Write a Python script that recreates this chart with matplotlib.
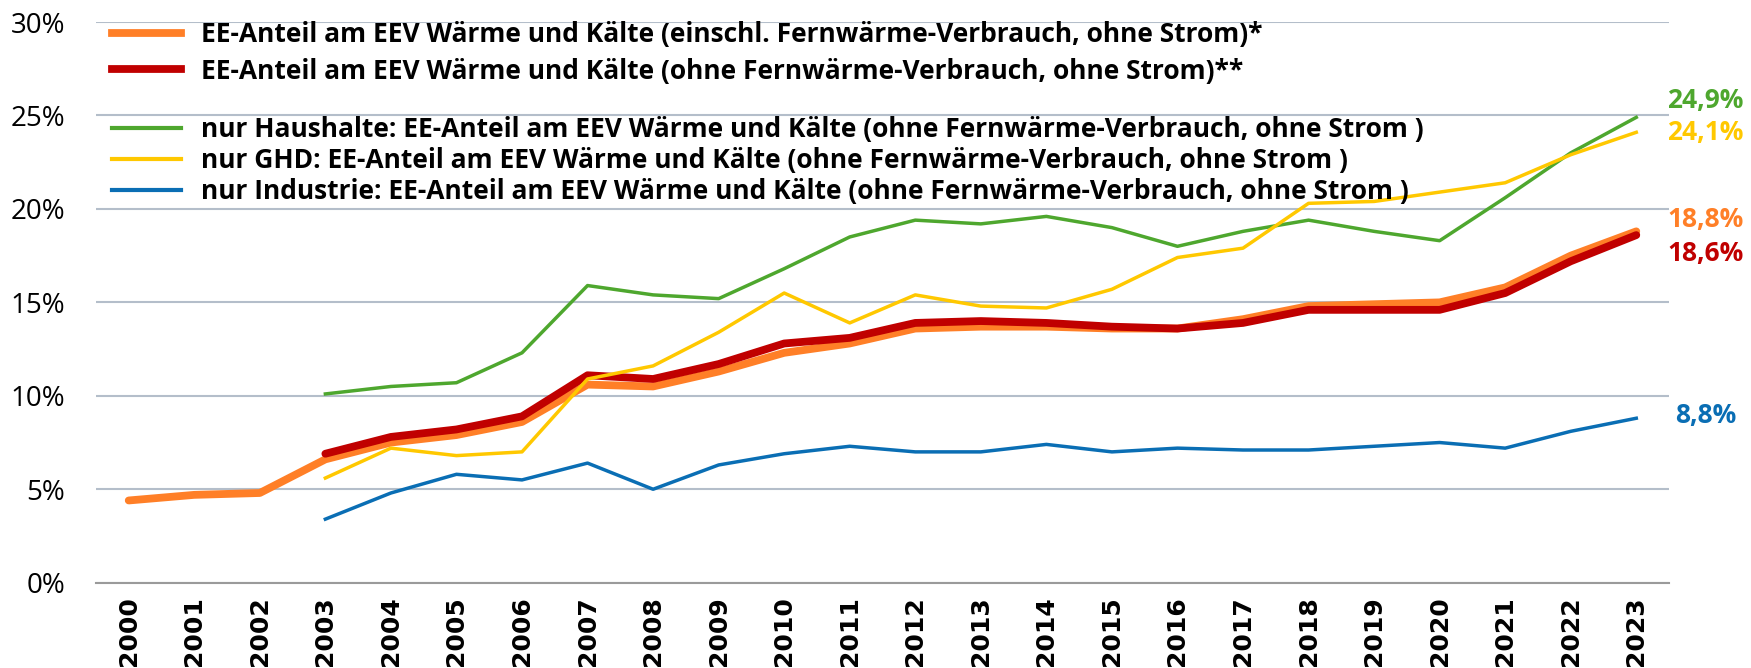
import matplotlib
matplotlib.use("Agg")
import matplotlib.pyplot as plt
from matplotlib.lines import Line2D
import numpy as np

# Data (share of renewables, %)
years = list(range(2000, 2024))
years_sector = list(range(2003, 2024))

ee_incl_fw = [4.4, 4.7, 4.8, 6.6, 7.5, 7.9, 8.6, 10.6, 10.5, 11.3, 12.3, 12.8,
              13.6, 13.7, 13.7, 13.6, 13.6, 14.1, 14.8, 14.9, 15.0, 15.8, 17.5, 18.8]
ee_ohne_fw = [6.9, 7.8, 8.2, 8.9, 11.1, 10.9, 11.7, 12.8, 13.1, 13.9, 14.0,
              13.9, 13.7, 13.6, 13.9, 14.6, 14.6, 14.6, 15.5, 17.2, 18.6]
haushalte = [10.1, 10.5, 10.7, 12.3, 15.9, 15.4, 15.2, 16.8, 18.5, 19.4, 19.2,
             19.6, 19.0, 18.0, 18.8, 19.4, 18.8, 18.3, 20.6, 23.0, 24.9]
ghd = [5.6, 7.2, 6.8, 7.0, 10.9, 11.6, 13.4, 15.5, 13.9, 15.4, 14.8,
       14.7, 15.7, 17.4, 17.9, 20.3, 20.4, 20.9, 21.4, 22.9, 24.1]
industrie = [3.4, 4.8, 5.8, 5.5, 6.4, 5.0, 6.3, 6.9, 7.3, 7.0, 7.0,
             7.4, 7.0, 7.2, 7.1, 7.1, 7.3, 7.5, 7.2, 8.1, 8.8]

labels_main = [
    "EE-Anteil am EEV Wärme und Kälte (einschl. Fernwärme-Verbrauch, ohne Strom)*",
    "EE-Anteil am EEV Wärme und Kälte (ohne Fernwärme-Verbrauch, ohne Strom)**",
]
labels_sector = [
    "nur Haushalte: EE-Anteil am EEV Wärme und Kälte (ohne Fernwärme-Verbrauch, ohne Strom )",
    "nur GHD: EE-Anteil am EEV Wärme und Kälte (ohne Fernwärme-Verbrauch, ohne Strom )",
    "nur Industrie: EE-Anteil am EEV Wärme und Kälte (ohne Fernwärme-Verbrauch, ohne Strom )",
]
yticks = [0, 5, 10, 15, 20, 25, 30]

C_ORANGE = "#FF7F27"
C_RED = "#C00000"
C_GREEN = "#4EA72E"
C_YELLOW = "#FFC800"
C_BLUE = "#0A6EB4"

plt.rcParams["font.family"] = ["Open Sans", "DejaVu Sans"]

fig = plt.figure(figsize=(17.51, 6.68), dpi=100)
ax = fig.add_axes([0.0548, 0.1277, 0.8984, 0.8393])

x_all = np.arange(len(years))
x_sec = np.arange(len(years) - len(years_sector), len(years))

ax.plot(x_all, ee_incl_fw, color=C_ORANGE, lw=5.6, solid_capstyle="round", zorder=3)
ax.plot(x_sec, ee_ohne_fw, color=C_RED, lw=5.6, solid_capstyle="round", zorder=4)
ax.plot(x_sec, haushalte, color=C_GREEN, lw=2.5, zorder=5)
ax.plot(x_sec, ghd, color=C_YELLOW, lw=2.5, zorder=5)
ax.plot(x_sec, industrie, color=C_BLUE, lw=2.5, zorder=5)

# end-of-line value labels
ends = [
    (haushalte, C_GREEN, 31, 17),
    (ghd, C_YELLOW, 31, 0),
    (ee_incl_fw, C_ORANGE, 31, 12),
    (ee_ohne_fw, C_RED, 31, -18),
    (industrie, C_BLUE, 39, 3),
]
for series, col, dx, dy in ends:
    ax.annotate(f"{series[-1]:.1f}%".replace(".", ","), xy=(x_all[-1], series[-1]),
                xytext=(dx, dy), textcoords="offset pixels", ha="left", va="center",
                color=col, fontsize=19, fontweight="bold", annotation_clip=False)

ax.set_xlim(-0.5, len(years) - 0.5)
ax.set_ylim(0, 30)
ax.set_yticks(yticks)
ax.set_yticklabels([f"{v}%" for v in yticks], fontsize=20)
ax.set_xticks(x_all)
ax.set_xticklabels([str(y) for y in years], rotation=90, fontsize=18,
                   fontweight="bold", family="DejaVu Sans")
ax.tick_params(axis="both", length=0)
ax.tick_params(axis="x", pad=10)
ax.tick_params(axis="y", pad=22)

ax.grid(axis="y", color="#B4BECA", lw=1.5, zorder=0)
for s in ["top", "right", "left"]:
    ax.spines[s].set_visible(False)
ax.spines["bottom"].set_color("#9A9A9A")
ax.spines["bottom"].set_linewidth(1.5)

h_main = [Line2D([], [], color=C_ORANGE, lw=5.6), Line2D([], [], color=C_RED, lw=5.6)]
h_sec = [Line2D([], [], color=c, lw=3) for c in (C_GREEN, C_YELLOW, C_BLUE)]

leg_kw = dict(frameon=False, prop={"weight": "bold", "size": 19},
              handlelength=2.6, handletextpad=0.76, borderpad=0, borderaxespad=0,
              loc="upper left", bbox_transform=fig.transFigure)
leg1 = ax.legend(h_main, labels_main, bbox_to_anchor=(112 / 1751, 1 - 21 / 668),
                 labelspacing=0.36, **leg_kw)
ax.add_artist(leg1)
ax.legend(h_sec, labels_sector, bbox_to_anchor=(112 / 1751, 1 - 116 / 668),
          labelspacing=0.15, **leg_kw)

fig.savefig("out.png", dpi=100)
